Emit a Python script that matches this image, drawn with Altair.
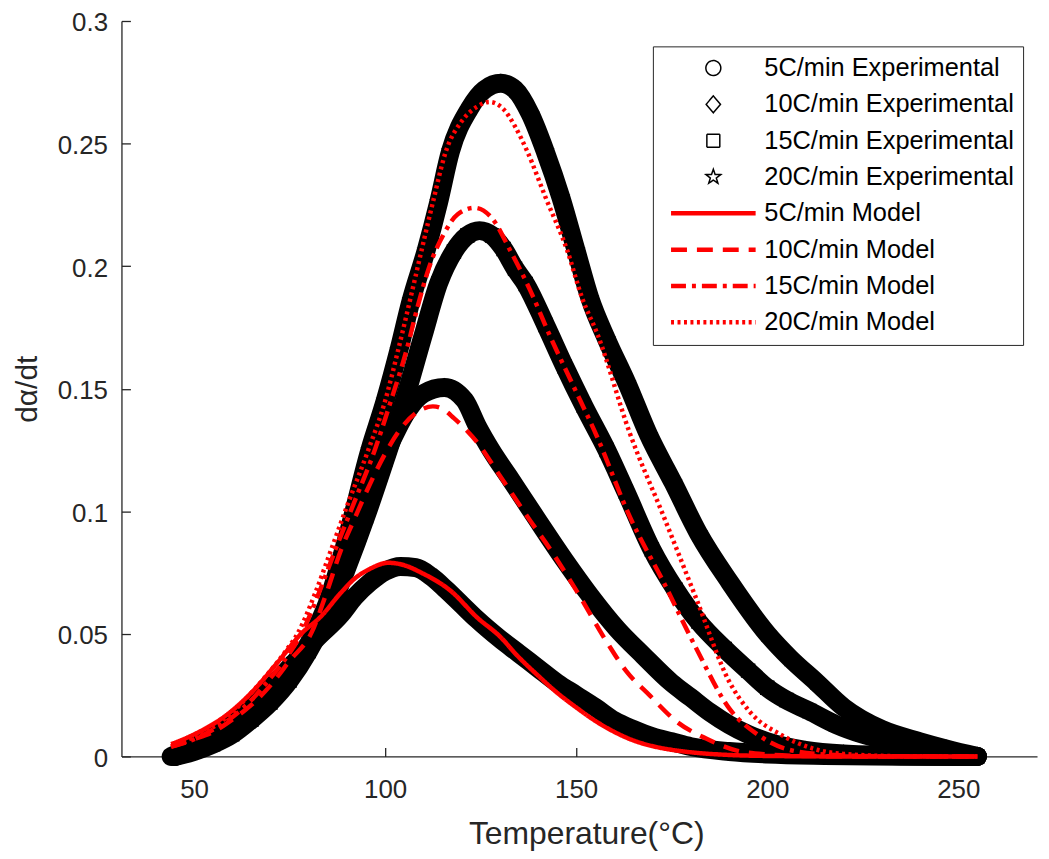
import altair as alt
import pandas as pd

# ---------------- data ----------------
series_names = [
    "5C/min Experimental", "10C/min Experimental", "15C/min Experimental", "20C/min Experimental",
    "5C/min Model", "10C/min Model", "15C/min Model", "20C/min Model",
]

exp5_T = [44, 47, 50, 55, 60, 65, 70, 76, 82, 88.5, 92, 96, 100, 104, 108, 112, 116, 120, 124, 130, 135,
          140, 145, 150, 155, 160, 165, 170, 175, 180, 190, 200, 215, 235, 255]
exp5_y = [0.000, 0.002, 0.004, 0.008, 0.0145, 0.021, 0.028, 0.038, 0.048, 0.058, 0.065, 0.071, 0.0755,
          0.0775, 0.077, 0.0735, 0.068, 0.062, 0.056, 0.048, 0.042, 0.036, 0.030, 0.025, 0.020, 0.0146,
          0.011, 0.008, 0.006, 0.004, 0.002, 0.001, 0.0004, 0.0001, 0.0]

exp10_T = [45, 50, 55, 60, 65, 70, 75, 80, 85, 90, 95, 99.5, 103, 106, 110, 115.5, 120.8, 124.2, 127.7,
           132.9, 139.8, 146.8, 153.7, 160.7, 167.6, 175, 180, 185, 190, 195, 200, 210, 220, 235, 255]
exp10_y = [0.0, 0.003, 0.006, 0.010, 0.016, 0.024, 0.033, 0.045, 0.060, 0.078, 0.099, 0.121, 0.133,
           0.1413, 0.148, 0.1505, 0.1453, 0.1345, 0.125, 0.1129, 0.0966, 0.0804, 0.0655, 0.052, 0.0411,
           0.030, 0.024, 0.018, 0.013, 0.009, 0.006, 0.0025, 0.001, 0.0003, 0.0]

exp15_T = [45, 50, 55, 60, 65, 70, 75, 80, 85, 90, 95, 100, 105, 110, 114, 118, 121.5, 124.7, 128, 131,
           134, 136.8, 142, 147, 152, 158, 163, 169.8, 176, 182, 188.9, 195, 200, 205, 211, 218, 225, 232,
           240, 248, 255]
exp15_y = [0.0, 0.002, 0.005, 0.009, 0.015, 0.022, 0.031, 0.043, 0.058, 0.077, 0.098, 0.121, 0.145, 0.172,
           0.193, 0.206, 0.2125, 0.2145, 0.2125, 0.207, 0.199, 0.1927, 0.176, 0.159, 0.143, 0.125, 0.108,
           0.0844, 0.068, 0.055, 0.0438, 0.035, 0.028, 0.023, 0.0185, 0.013, 0.009, 0.006, 0.003, 0.001,
           0.0]

exp20_T = [45, 50, 55, 60, 65, 70, 75, 80, 85, 90, 96, 100, 103.6, 106.8, 110.7, 114, 117.1, 122, 126, 130.3,
           134, 138, 141.9, 146, 150, 153.6, 158, 163.3, 169, 175.4, 182, 190.2, 200, 206, 212.8, 220, 230,
           240, 247, 255]
exp20_y = [0.0, 0.003, 0.006, 0.010, 0.016, 0.023, 0.033, 0.046, 0.063, 0.089, 0.125, 0.145, 0.1657, 0.186,
           0.2062, 0.226, 0.2468, 0.264, 0.272, 0.2746, 0.272, 0.262, 0.2468, 0.228, 0.2062, 0.1868, 0.170,
           0.1522, 0.131, 0.1116, 0.091, 0.071, 0.050, 0.040, 0.0304, 0.020, 0.011, 0.006, 0.003, 0.0]

mod5_T = [44, 50, 59, 65, 72, 78, 83.4, 88, 92, 96, 100.8, 105, 109.4, 117.2, 124.2, 130, 134.6, 140,
          145, 150, 155, 160, 165, 170, 175, 180, 190, 200, 220, 255]
mod5_y = [0.005, 0.009, 0.0175, 0.026, 0.0386, 0.050, 0.0574, 0.066, 0.0725, 0.0765, 0.079, 0.078, 0.075,
          0.0675, 0.0565, 0.049, 0.0411, 0.033, 0.026, 0.020, 0.0145, 0.0100, 0.0065, 0.0042,
          0.0027, 0.0017, 0.0006, 0.0002, 0.0, 0.0]

mod10_T = [44, 50, 55, 60, 65, 70, 75, 80.8, 84.5, 88.5, 92, 96, 100, 104, 108, 112.5, 115, 118,
           124.2, 130.2, 137.2, 143.2, 150.3, 158, 163, 169.3, 176.3, 184, 192, 200, 210, 225, 255]
mod10_y = [0.004, 0.007, 0.010, 0.015, 0.021, 0.029, 0.039, 0.0507, 0.066, 0.0844, 0.097, 0.111, 0.1235,
           0.1335, 0.140, 0.1428, 0.1418, 0.138, 0.1279, 0.1141, 0.0979, 0.0845, 0.067,
           0.0467, 0.035, 0.0248, 0.0142, 0.0073, 0.0024, 0.0008, 0.0002, 0.0, 0.0]

mod15_T = [44, 50, 55, 60, 65, 70, 74, 78.3, 82.5, 87, 92, 97.3, 101.5, 105.6, 108.6, 111.4, 115.5, 119,
           123.4, 128, 132.8, 138, 143, 149, 155.5, 164, 172.9, 181.5, 190.1, 197.9, 205, 215, 230, 255]
mod15_y = [0.004, 0.007, 0.011, 0.016, 0.023, 0.032, 0.040, 0.0507, 0.066, 0.0844, 0.104, 0.125, 0.145,
           0.1657, 0.184, 0.199, 0.2135, 0.2212, 0.2238, 0.2195, 0.2062, 0.19, 0.172, 0.152, 0.1303, 0.0979,
           0.071, 0.0438, 0.0195, 0.0085, 0.003, 0.0008, 0.0001, 0.0]

mod20_T = [44, 50, 55, 60, 65, 70, 74, 77.3, 81.8, 85.9, 90, 95.6, 100, 103.4, 106.5, 109.5, 112.5, 115.9,
           120, 124, 127.3, 131, 134, 137.2, 142, 147.7, 151.6, 155.5, 164, 172.9, 181.5, 190.1, 195.4, 204,
           212, 220, 235, 255]
mod20_y = [0.004, 0.008, 0.012, 0.018, 0.026, 0.035, 0.043, 0.0507, 0.067, 0.0844, 0.102, 0.125, 0.145,
           0.1657, 0.186, 0.2062, 0.226, 0.2468, 0.259, 0.265, 0.267, 0.264, 0.257, 0.2468, 0.228, 0.2062,
           0.1868, 0.1725, 0.132, 0.0979, 0.0641, 0.0304, 0.0183, 0.0085, 0.0032, 0.001, 0.0001, 0.0]

x_ticks = [50, 100, 150, 200, 250]
y_ticks = [0, 0.05, 0.1, 0.15, 0.2, 0.25, 0.3]

# ---------------- tables ----------------
def table(names, Ts, ys):
    rows = []
    for name, T, y in zip(names, Ts, ys):
        for t, v in zip(T, y):
            rows.append({"series": name, "T": t, "y": v})
    return pd.DataFrame(rows)

exp_df = table(series_names[:4], [exp5_T, exp10_T, exp15_T, exp20_T], [exp5_y, exp10_y, exp15_y, exp20_y])
mod_df = table(series_names[4:], [mod5_T, mod10_T, mod15_T, mod20_T], [mod5_y, mod10_y, mod15_y, mod20_y])

# ---------------- styles ----------------
W, H = 920, 739
FONT = "Liberation Sans"
AX = "#262626"

circle = "M0.75,0A0.75,0.75,0,1,1,-0.75,0A0.75,0.75,0,1,1,0.75,0Z"
diamond = "M0,-0.85L0.72,0L0,0.85L-0.72,0Z"
square = "M-0.65,-0.65H0.65V0.65H-0.65Z"
star = ("M0,-0.78L0.18,-0.25L0.74,-0.24L0.3,0.1L0.46,0.63L0,0.31L-0.46,0.63L-0.3,0.1"
        "L-0.74,-0.24L-0.18,-0.25Z")
# legend line sample: parallel strokes give a thick line with a thin symbol stroke
seg = "M-4.25,-0.15H4.25M-4.25,-0.05H4.25M-4.25,0.05H4.25M-4.25,0.15H4.25"

shape_range = [circle, diamond, square, star, seg, seg, seg, seg]
color_range = ["#000000"] * 4 + ["#ff0000"] * 4
dash_range = [[1, 0]] * 4 + [[1, 0], [16, 10], [15, 6, 4, 6], [3, 3.5]]

x_scale = alt.Scale(domain=[31, 270.6], nice=False, zero=False)
y_scale = alt.Scale(domain=[0, 0.3], nice=False, zero=False)

color_enc = alt.Color("series:N", title=None,
                      scale=alt.Scale(domain=series_names, range=color_range))

x_axis_main = alt.Axis(orient="bottom", values=x_ticks, ticks=False, tickSize=0, grid=False,
                       labelFont=FONT, labelFontSize=26, labelColor=AX, labelPadding=20,
                       domainColor=AX, domainWidth=1.3,
                       title="Temperature(°C)", titleFont=FONT, titleFontSize=32,
                       titleFontWeight="normal", titleColor=AX, titleX=467, titleY=87,
                       titleAlign="center", titleBaseline="alphabetic")
y_axis_main = alt.Axis(orient="left", values=y_ticks, format="~g", ticks=False, tickSize=0, grid=False,
                       labelFont=FONT, labelFontSize=26, labelColor=AX, labelPadding=14, labelOffset=2,
                       domainColor=AX, domainWidth=1.3,
                       title="dα/dt", titleFont=FONT, titleFontSize=30, titleFontWeight="normal",
                       titleColor=AX, titleX=-85, titleY=H / 2, titleAngle=270,
                       titleAlign="center", titleBaseline="alphabetic")
x_axis_ticks = alt.Axis(orient="top", offset=-H, values=x_ticks, labels=False, domain=False,
                        ticks=True, tickSize=9, tickColor=AX, tickWidth=1.3, grid=False, title=None)
y_axis_ticks = alt.Axis(orient="right", offset=-W, values=y_ticks, labels=False, domain=False,
                        ticks=True, tickSize=9, tickColor=AX, tickWidth=1.3, grid=False, title=None)

# dense experimental data drawn as a thick black band
band = alt.Chart(exp_df).mark_line(color="black", strokeWidth=19, strokeCap="round",
                                   strokeJoin="round", interpolate="monotone").encode(
    x=alt.X("T:Q", scale=x_scale, axis=x_axis_main),
    y=alt.Y("y:Q", scale=y_scale, axis=y_axis_main),
    detail="series:N",
)

points = alt.Chart(exp_df).mark_point(filled=False, size=400, opacity=1, strokeWidth=1.5).encode(
    x=alt.X("T:Q", scale=x_scale, axis=None),
    y=alt.Y("y:Q", scale=y_scale, axis=None),
    color=color_enc,
    shape=alt.Shape("series:N", title=None,
                    scale=alt.Scale(domain=series_names, range=shape_range)),
)

models = alt.Chart(mod_df).mark_line(interpolate="monotone", opacity=1, strokeWidth=4.5).encode(
    x=alt.X("T:Q", scale=x_scale, axis=x_axis_ticks),
    y=alt.Y("y:Q", scale=y_scale, axis=y_axis_ticks),
    color=color_enc,
    strokeDash=alt.StrokeDash("series:N", title=None,
                              scale=alt.Scale(domain=series_names, range=dash_range)),
)

chart = alt.layer(band, points, models).resolve_axis(x="independent", y="independent").properties(
    width=W, height=H,
    autosize=alt.AutoSizeParams(type="none"),
    padding={"left": 114, "top": 11, "right": 4, "bottom": 100},
    background="white",
).configure_view(stroke=None).configure_legend(
    orient="none", legendX=534, legendY=25.5,
    symbolSize=400, symbolStrokeWidth=1.5, labelFont=FONT, labelFontSize=25.5,
    labelColor="#000000", labelLimit=0,
    labelOffset=38.5, symbolOffset=39, padding=9, rowPadding=9.5,
    strokeColor=AX, fillColor="white", titlePadding=0,
)

chart.save("out.html", embed_options={"renderer": "svg", "actions": False})
